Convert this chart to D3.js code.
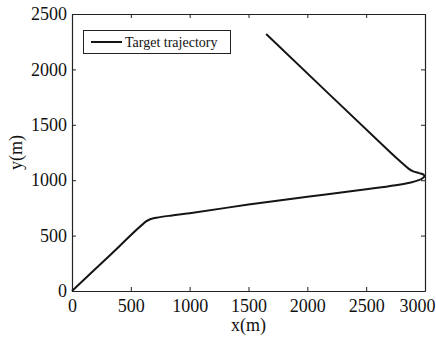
<!DOCTYPE html>
<html>
<head>
<meta charset="utf-8">
<script src="https://cdn.jsdelivr.net/npm/d3@7"></script>
<style>
  html, body { margin: 0; padding: 0; background: #fff; }
  svg { display: block; }
  svg text { font-family: "Liberation Serif", "Times New Roman", "DejaVu Serif", serif !important; fill: #111; }
</style>
</head>
<body>
<svg id="chart" width="436" height="338"></svg>
<script>
// Target trajectory samples (metres)
const trajX = [0, 300, 630, 665, 720, 850, 1000, 1500, 2000, 2500, 2750, 2880, 2940, 2980, 2995, 2985, 2950, 2900, 2860, 2800, 2700, 1650];
const trajY = [0, 300, 628, 648, 662, 682, 702, 780, 850, 918, 955, 980, 998, 1018, 1038, 1052, 1064, 1080, 1105, 1160, 1257, 2320];
const xTicks = [0, 500, 1000, 1500, 2000, 2500, 3000];
const yTicks = [0, 500, 1000, 1500, 2000, 2500];
const legendLabel = "Target trajectory";

const svg = d3.select("#chart");
const margin = { left: 72, right: 11, top: 14, bottom: 47 };
const W = 436, H = 338;
const x = d3.scaleLinear().domain([0, 3000]).range([margin.left, W - margin.right]);
const y = d3.scaleLinear().domain([0, 2500]).range([H - margin.bottom, margin.top]);

const axisColor = "#222";
const tickLen = 4;
const fmt = d3.format("d");

// Bottom / left axes with inward ticks
const gx = svg.append("g").attr("transform", `translate(0,${y(0)})`)
  .call(d3.axisBottom(x).tickValues(xTicks).tickFormat(fmt).tickSizeInner(-tickLen).tickSizeOuter(0).tickPadding(8));
const gy = svg.append("g").attr("transform", `translate(${x(0)},0)`)
  .call(d3.axisLeft(y).tickValues(yTicks).tickFormat(fmt).tickSizeInner(-tickLen).tickSizeOuter(0).tickPadding(5));
// Mirrored top / right axes
const gt = svg.append("g").attr("transform", `translate(0,${y(2500)})`)
  .call(d3.axisTop(x).tickValues(xTicks).tickSizeInner(-tickLen).tickSizeOuter(0).tickFormat(""));
const gr = svg.append("g").attr("transform", `translate(${x(3000)},0)`)
  .call(d3.axisRight(y).tickValues(yTicks).tickSizeInner(-tickLen).tickSizeOuter(0).tickFormat(""));

[gx, gy, gt, gr].forEach(g => {
  g.attr("font-family", null);
  g.selectAll("path.domain").attr("stroke", axisColor).attr("stroke-width", 1.2);
  g.selectAll(".tick line").attr("stroke", axisColor).attr("stroke-width", 1);
  g.selectAll(".tick text").attr("font-size", 18).attr("fill", "#111");
});

// The last x label sits flush with the right edge of the figure
gx.selectAll(".tick text").filter(d => d === 3000)
  .attr("text-anchor", "end").attr("x", W - 1 - x(3000));

// Trajectory
const pts = trajX.map((v, i) => [v, trajY[i]]);
svg.append("path")
  .datum(pts)
  .attr("fill", "none")
  .attr("stroke", "#151515")
  .attr("stroke-width", 2)
  .attr("stroke-linejoin", "round")
  .attr("d", d3.line().x(d => x(d[0])).y(d => y(d[1])).curve(d3.curveCatmullRom.alpha(0.5)));

// Axis titles
svg.append("text")
  .attr("x", (x(0) + x(3000)) / 2).attr("y", 331)
  .attr("text-anchor", "middle").attr("font-size", 18)
  .text("x(m)");
svg.append("text")
  .attr("transform", `translate(22,${(y(0) + y(2500)) / 2}) rotate(-90)`)
  .attr("text-anchor", "middle").attr("font-size", 18)
  .text("y(m)");

// Legend
const lg = svg.append("g");
lg.append("rect").attr("x", 83.5).attr("y", 30.5).attr("width", 147).attr("height", 23)
  .attr("fill", "#fff").attr("stroke", "#222").attr("stroke-width", 1);
lg.append("line").attr("x1", 91).attr("x2", 122).attr("y1", 42).attr("y2", 42)
  .attr("stroke", "#151515").attr("stroke-width", 2);
lg.append("text").attr("x", 125).attr("y", 47).attr("font-size", 14).text(legendLabel);
</script>
</body>
</html>
